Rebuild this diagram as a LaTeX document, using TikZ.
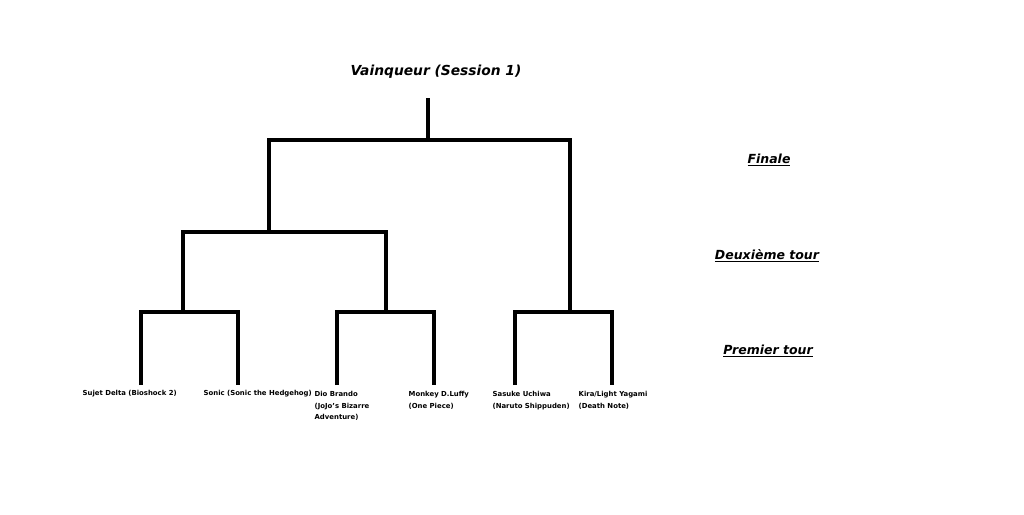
\documentclass[tikz,border=0pt]{standalone}
\usepackage{fontspec}
\setmainfont{DejaVu Sans}
\usetikzlibrary{positioning}

\begin{document}
\begin{tikzpicture}[x=1pt,y=-1pt,line width=3.3pt]
  \tikzstyle{every node}=[inner sep=0pt,text=black]
  \tikzstyle{player}=[anchor=north west,align=left,font=\bfseries\fontsize{6.9}{11.5}\selectfont]
  \tikzstyle{round}=[font=\bfseries\itshape\fontsize{12.5}{14}\selectfont]
\fill[white] (0,0) rectangle (1024,514);
\useasboundingbox (0,0) rectangle (1024,514);

% titre et tours
\node [font=\bfseries\itshape\fontsize{13.8}{16}\selectfont] (win) at (436,72) {Vainqueur (Session 1)};
\node [round] (fin) at (769,160) {\underline{Finale}};
\node [round] (deux) at (767,256) {\underline{Deuxième tour}};
\node [round] (prem) at (768,351) {\underline{Premier tour}};

% joueurs
\node [player] (1) at (81,389) {Sujet Delta (Bioshock 2)};
\node [player] (2) at (202,389) {Sonic (Sonic the Hedgehog)};
\node [player] (3) at (313,390) {Dio Brando\\(JoJo's Bizarre\\Adventure)};
\node [player] (4) at (407,390) {Monkey D.Luffy\\(One Piece)};
\node [player] (5) at (491,390) {Sasuke Uchiwa\\(Naruto Shippuden)};
\node [player] (6) at (577,390) {Kira/Light Yagami\\(Death Note)};

% points de l'arbre
\coordinate (l1) at (141,385);
\coordinate (l2) at (238,385);
\coordinate (l3) at (337,385);
\coordinate (l4) at (434,385);
\coordinate (l5) at (515,385);
\coordinate (l6) at (612,385);
\coordinate (p1) at (183,312);
\coordinate (p3) at (386,312);
\coordinate (p5) at (570,312);
\coordinate (p2) at (269,232);
\coordinate (p4) at (428,140);
\coordinate (w) at (428,98);

\draw (l1) |- (p1) -| (l2);
\draw (l3) |- (p3) -| (l4);
\draw (l5) |- (p5) -| (l6);
\draw (p1) |- (p2) -| (p3);
\draw (p2) |- (p4) -| (p5);
\draw (p4) -- (w);

\end{tikzpicture}
\end{document}
